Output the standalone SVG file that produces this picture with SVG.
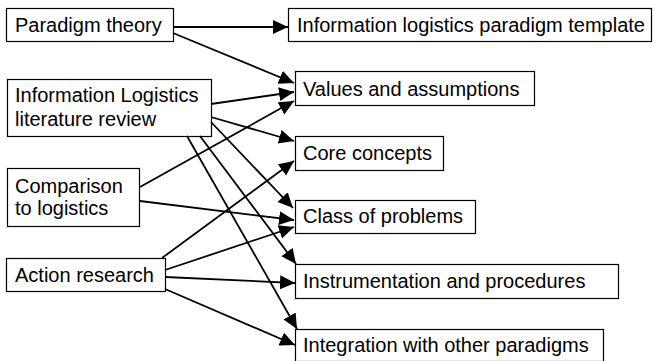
<svg xmlns="http://www.w3.org/2000/svg" width="654" height="361" viewBox="0 0 654 361">
<style>
.box{fill:#fff;stroke:#000;stroke-width:1.2}
.t{font-family:"Liberation Sans",Arial,sans-serif;font-size:20px;fill:#000}
.c{stroke:#000;stroke-width:1.8;fill:none;marker-end:url(#ah)}
</style>
<defs>
<marker id="ah" markerUnits="userSpaceOnUse" markerWidth="16" markerHeight="15" refX="15" refY="7" orient="auto">
<path d="M0,0 L15,7 L0,14 z" fill="#000"/>
</marker>
</defs>
<rect width="654" height="361" fill="#fff"/>
<g id="n-paradigm"><rect class="box" x="6.5" y="8.5" width="167" height="33"/><text class="t" x="15" y="32">Paradigm theory</text></g>
<g id="n-review"><rect class="box" x="7.5" y="79.5" width="204" height="57"/><text class="t" x="15" y="102">Information Logistics</text><text class="t" x="15" y="126">literature review</text></g>
<g id="n-comparison"><rect class="box" x="7.5" y="168.5" width="132" height="58"/><text class="t" x="15" y="193">Comparison</text><text class="t" x="15" y="215">to logistics</text></g>
<g id="n-action"><rect class="box" x="6.5" y="258.5" width="159" height="33"/><text class="t" x="15" y="282">Action research</text></g>
<g id="n-template"><rect class="box" x="288.5" y="8.5" width="363" height="33"/><text class="t" x="297" y="32">Information logistics paradigm template</text></g>
<g id="n-values"><rect class="box" x="295.5" y="71.5" width="239" height="34"/><text class="t" x="303" y="96">Values and assumptions</text></g>
<g id="n-core"><rect class="box" x="295.5" y="136.5" width="148" height="34"/><text class="t" x="303" y="160">Core concepts</text></g>
<g id="n-class"><rect class="box" x="295.5" y="200.5" width="180" height="33"/><text class="t" x="303" y="223">Class of problems</text></g>
<g id="n-instr"><rect class="box" x="295.5" y="264.5" width="323" height="34"/><text class="t" x="303" y="288">Instrumentation and procedures</text></g>
<g id="n-integ"><rect class="box" x="295.5" y="329.5" width="308" height="32"/><text class="t" x="303" y="352">Integration with other paradigms</text></g>
<g id="connectors">
<line class="c" x1="173" y1="27" x2="288" y2="27"/>
<line class="c" x1="173" y1="33" x2="294" y2="83"/>
<line class="c" x1="211" y1="104" x2="294" y2="92"/>
<line class="c" x1="211" y1="117" x2="294" y2="141"/>
<line class="c" x1="140" y1="187" x2="294" y2="101"/>
<line class="c" x1="140" y1="201" x2="294" y2="220"/>
<line class="c" x1="162" y1="258" x2="294" y2="161"/>
<line class="c" x1="165" y1="270" x2="294" y2="227"/>
<line class="c" x1="165" y1="277" x2="295" y2="283"/>
<line class="c" x1="165" y1="289" x2="295" y2="345"/>
<line class="c" x1="187" y1="136" x2="297" y2="329"/>
<line class="c" x1="200" y1="136" x2="296" y2="264"/>
<line class="c" x1="211" y1="122" x2="293" y2="208"/>
</g>
</svg>
